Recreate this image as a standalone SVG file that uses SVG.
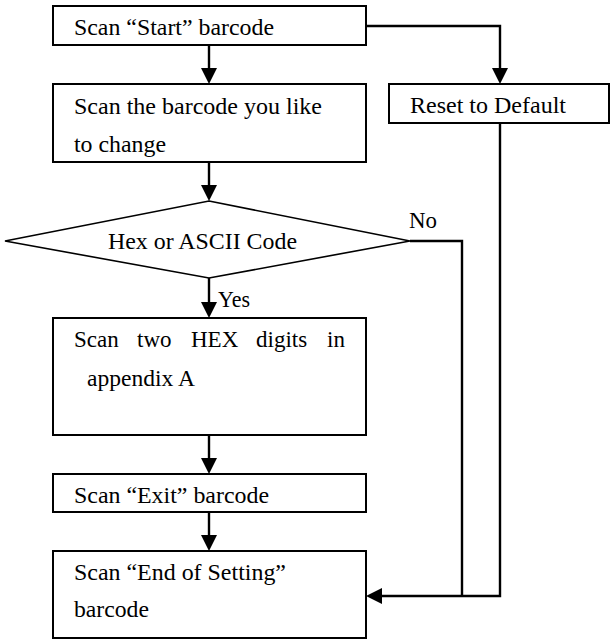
<svg xmlns="http://www.w3.org/2000/svg" width="613" height="640" viewBox="0 0 613 640" font-family="'Liberation Serif', 'DejaVu Serif', serif" font-size="23">
<style>
.box{fill:#fff;stroke:#000;stroke-width:2}
.dia{fill:#fff;stroke:#000;stroke-width:1.6}
.ln{fill:none;stroke:#000;stroke-width:2.4}
.ah{fill:#000;stroke:none}
.t{font-family:'Liberation Serif','DejaVu Serif',serif;font-size:23px;fill:#000}
</style>
<rect width="613" height="640" fill="#fff"/>
<g id="start">
<rect class="box" x="53" y="6" width="313" height="39"/>
<text class="t" x="74" y="35" textLength="200" lengthAdjust="spacingAndGlyphs">Scan “Start” barcode</text>
</g>
<g id="scan-barcode">
<rect class="box" x="53" y="84" width="313" height="78"/>
<text class="t" x="74" y="114" textLength="248" lengthAdjust="spacingAndGlyphs">Scan the barcode you like</text>
<text class="t" x="74" y="152" textLength="92" lengthAdjust="spacingAndGlyphs">to change</text>
</g>
<g id="reset">
<rect class="box" x="389" y="84" width="220" height="39"/>
<text class="t" x="410" y="113" textLength="156" lengthAdjust="spacingAndGlyphs">Reset to Default</text>
</g>
<g id="decision">
<polygon class="dia" points="209,201 410,241 209,278 5,241"/>
<text class="t" x="108" y="249" textLength="189" lengthAdjust="spacingAndGlyphs">Hex or ASCII Code</text>
</g>
<g id="scan-hex">
<rect class="box" x="53" y="318" width="313" height="117"/>
<text class="t" x="74" y="347">Scan</text>
<text class="t" x="137" y="347">two</text>
<text class="t" x="191" y="347">HEX</text>
<text class="t" x="256" y="347">digits</text>
<text class="t" x="327" y="347">in</text>
<text class="t" x="87" y="386" textLength="108" lengthAdjust="spacingAndGlyphs">appendix A</text>
</g>
<g id="exit">
<rect class="box" x="53" y="474" width="313" height="38"/>
<text class="t" x="74" y="503" textLength="195" lengthAdjust="spacingAndGlyphs">Scan “Exit” barcode</text>
</g>
<g id="end">
<rect class="box" x="53" y="551" width="313" height="87"/>
<text class="t" x="74" y="580" textLength="212" lengthAdjust="spacingAndGlyphs">Scan “End of Setting”</text>
<text class="t" x="74" y="617" textLength="75" lengthAdjust="spacingAndGlyphs">barcode</text>
</g>
<g id="connectors">
<line class="ln" x1="209" y1="45" x2="209" y2="70"/>
<polygon class="ah" points="201,68 217,68 209,84"/>
<line class="ln" x1="209" y1="162" x2="209" y2="187"/>
<polygon class="ah" points="201,185 217,185 209,201"/>
<polyline class="ln" points="366,26 500,26 500,70"/>
<polygon class="ah" points="492,68 508,68 500,84"/>
<line class="ln" x1="209" y1="278" x2="209" y2="304"/>
<polygon class="ah" points="201,302 217,302 209,318"/>
<text class="t" x="218" y="307" textLength="32" lengthAdjust="spacingAndGlyphs">Yes</text>
<polyline class="ln" points="410,241 462,241 462,596"/>
<text class="t" x="409" y="228" textLength="28" lengthAdjust="spacingAndGlyphs">No</text>
<polyline class="ln" points="500,123 500,596 380,596"/>
<polygon class="ah" points="382,588 382,604 366,596"/>
<line class="ln" x1="209" y1="435" x2="209" y2="460"/>
<polygon class="ah" points="201,458 217,458 209,474"/>
<line class="ln" x1="209" y1="512" x2="209" y2="537"/>
<polygon class="ah" points="201,535 217,535 209,551"/>
</g>
</svg>
